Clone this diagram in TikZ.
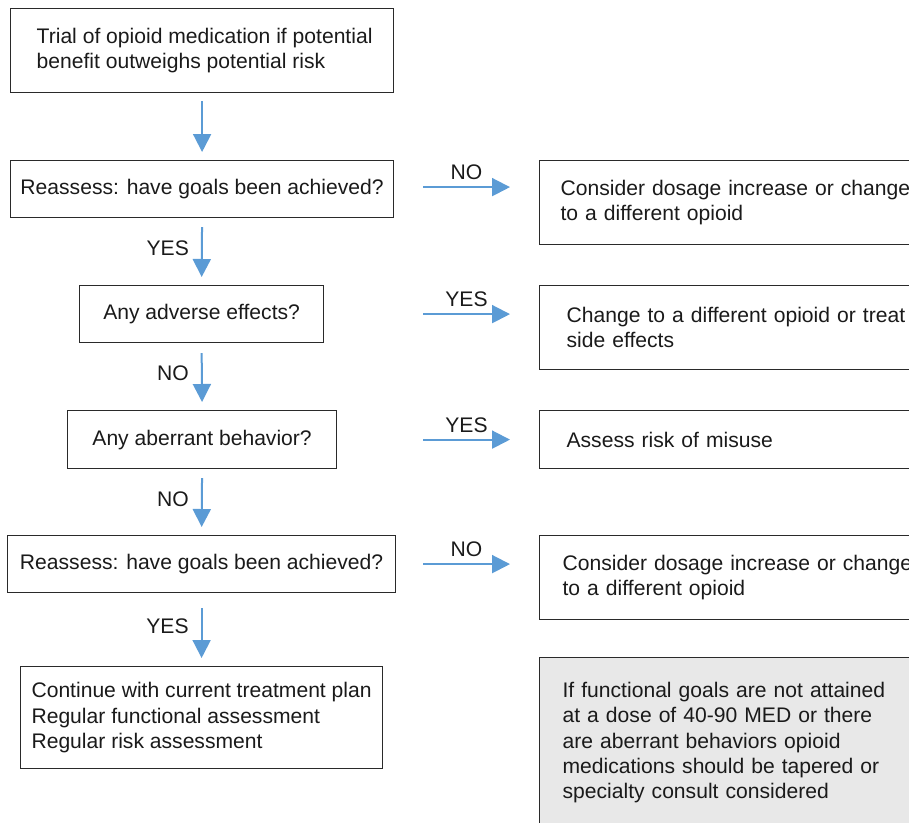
\documentclass[tikz,border=0pt]{standalone}
\usepackage{fontspec}
\setmainfont{Liberation Sans}
\usetikzlibrary{arrows.meta}
\definecolor{arrblue}{HTML}{5B9BD5}
\definecolor{boxline}{HTML}{2A2A2A}
\definecolor{txt}{HTML}{1A1A1A}
\definecolor{grayfill}{HTML}{E8E8E8}
\tikzset{
  box/.style={draw=boxline, line width=1.2pt, anchor=north west, align=left,
    font=\fontsize{21.1}{25.3}\selectfont, text=txt, inner sep=0pt},
  rbox/.style={box, text width=360pt, inner xsep=21pt, minimum height=84pt},
  varr/.style={draw=arrblue, line width=2pt, -{Triangle[length=18pt,width=18pt]},
    shorten <=8pt, shorten >=8pt},
  harr/.style={draw=arrblue, line width=2pt, -{Triangle[length=18pt,width=18pt]}},
  lbl/.style={font=\fontsize{21.1}{25.3}\selectfont, text=txt, inner sep=2pt}
}
\begin{document}
\begin{tikzpicture}[x=1pt,y=-1pt]
\clip (0,0) rectangle (909,822);
\useasboundingbox (0,0) rectangle (909,822);
% left column
\node[box, minimum width=383pt, minimum height=84pt] (b1) at (10,8)
  {\hspace*{5pt}Trial of opioid medication if potential\\\hspace*{5pt}benefit outweighs potential risk};
\node[box, minimum width=383pt, minimum height=57pt] (b2) at (10,160)
  {Reassess: have goals been achieved?};
\node[box, minimum width=244pt, minimum height=57pt] (b3) at (79,285)
  {Any adverse effects?};
\node[box, minimum width=269pt, minimum height=58pt] (b4) at (67,410)
  {Any aberrant behavior?};
\node[box, minimum width=388pt, minimum height=57pt] (b5) at (7,535)
  {Reassess: have goals been achieved?};
\node[box, minimum width=362pt, minimum height=102pt] (b6) at (20,666)
  {Continue with current treatment plan\\Regular functional assessment\\Regular risk assessment};
% right column
\node[rbox] (rA) at (539,160)
  {Consider dosage increase or change\\to a different opioid};
\node[rbox, inner xsep=27pt] (rB) at (539,285)
  {Change to a different opioid or treat\\side effects};
\node[rbox, inner xsep=27pt, minimum height=58pt] (rC) at (539,410)
  {Assess risk of misuse};
\node[rbox, inner xsep=23pt] (rD) at (539,535)
  {Consider dosage increase or change\\to a different opioid};
\node[rbox, inner xsep=23pt, minimum height=170pt, fill=grayfill] (rE) at (539,657)
  {If functional goals are not attained\\at a dose of 40-90 MED or there\\are aberrant behaviors opioid\\medications should be tapered or\\specialty consult considered};
% vertical arrows
\draw[varr] (b1.south) -- (b2.north);
\draw[varr, shorten <=9pt] (b2.south) -- node[lbl, left=10pt, yshift=3pt] {YES} (b3.north);
\draw[varr, shorten <=10pt] (b3.south) -- node[lbl, left=10pt, yshift=3pt] {NO} (b4.north);
\draw[varr, shorten <=9pt] (b4.south) -- node[lbl, left=10pt, yshift=3pt] {NO} (b5.north);
\draw[varr, shorten <=15pt] (b5.south) -- node[lbl, left=10pt, yshift=3pt] {YES} (b6.north);
% horizontal arrows
\path (b2.east -| rA.west) coordinate (hA);
\path (b3.east -| rB.west) coordinate (hB);
\path (b4.east -| rC.west) coordinate (hC);
\path (b5.east -| rD.west) coordinate (hD);
\draw[harr] ([xshift=-116pt,yshift=2pt]hA) -- node[lbl, above=4pt] {NO} ([xshift=-29pt,yshift=2pt]hA);
\draw[harr] ([xshift=-116pt]hB) -- node[lbl, above=4pt] {YES} ([xshift=-29pt]hB);
\draw[harr] ([xshift=-116pt]hC) -- node[lbl, above=4pt] {YES} ([xshift=-29pt]hC);
\draw[harr] ([xshift=-116pt]hD) -- node[lbl, above=4pt] {NO} ([xshift=-29pt]hD);
\end{tikzpicture}
\end{document}
